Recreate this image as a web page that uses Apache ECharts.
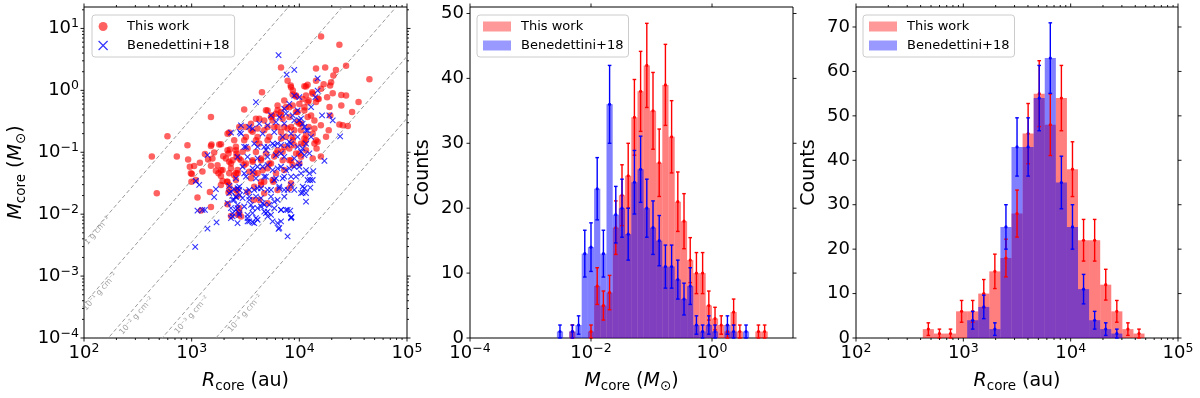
<!DOCTYPE html>
<html><head><meta charset="utf-8">
<script src="https://cdn.jsdelivr.net/npm/echarts@6/dist/echarts.min.js"></script>
<style>html,body{margin:0;padding:0;background:#fff}#c{width:1200px;height:398px}</style>
</head><body><div id="c"></div>
<script>
const FONT = 'DejaVu Sans';

// ---------- Panel 1: scatter, values as [log10 R(au), log10 M(Msun)] ----------
const thisWorkLog = [
[2.63,-1.07],[2.676,-1.66],[2.775,-0.74],[2.862,-1.07],[2.961,-0.886],[2.967,-1.116],[2.983,-1.234],[2.993,-1.34],[2.998,-1.475],[3.054,-1.73],
[3.086,-1.94],[3.076,-1.17],[3.1,-1.31],[3.169,-1.64],[3.179,-0.432],[3.179,-0.9],[3.193,-1.1],[3.24,-1.21],[3.256,-0.875],[3.272,-1.29],
[3.249,-1.34],[3.333,-0.7],[3.342,-1.02],[3.349,-1.53],[3.342,-1.65],[3.365,-2.03],[3.395,-1.37],[3.411,-0.91],[3.417,-1.07],[3.426,-1.705],
[3.488,-0.31],[3.498,-0.59],[3.473,-0.99],[3.504,-1.18],[3.519,-1.64],[3.566,-0.67],[3.566,-1.13],[3.575,-1.77],[3.597,-0.46],[3.653,-0.03],
[3.628,-0.86],[3.659,-1.29],[3.674,-1.475],[3.69,-0.32],[3.705,-0.59],[3.721,-0.75],[3.746,-0.405],[3.767,-1.07],[3.758,-1.475],[3.798,-0.32],
[4.202,0.868],[4.372,0.735],[4.434,0.398],[4.651,0.178],[3.83,0.371],[3.891,0.157],[4.155,0.157],[4.39,-0.076],
[4.155,0.355],[4.24,0.37],[4.34,0.33],[4.316,0.24],[4.295,0.13],[4.226,0.10],[4.047,0.066],[4.077,0.09],[3.92,0.077],[3.94,-0.003],
[4.12,-0.03],[4.2,0.024],[4.286,0.077],[4.31,-0.047],[4.434,-0.084],[4.55,-0.19],[4.49,-0.35],[4.28,-0.27],[4.258,-0.11],[4.18,-0.14],
[4.155,-0.19],[4.087,-0.164],[4.03,-0.14],[4.0,-0.22],[3.86,-0.164],[3.876,-0.27],[3.83,-0.35],[4.39,-0.244],[4.288,-0.405],[4.2,-0.565],
[4.372,-0.55],[4.403,-0.565],[4.45,-0.576],[4.273,-0.645],[4.248,-0.75],[4.17,-0.83],[4.16,-0.94],[4.2,-1.07],[4.124,-0.70],[4.062,-0.726],
[4.0,-0.54],[4.087,-0.59],[3.953,-0.645],[3.907,-0.43],[3.984,-0.35],[4.047,-0.324],[4.109,-0.405],[4.14,-0.485],[3.86,-0.59],[3.876,-0.75],
[3.938,-0.806],[4.016,-0.86],[4.062,-0.966],[3.97,-1.02],[3.907,-1.13],[4.0,-1.18],[3.845,-0.99],
[3.938,-0.067],[3.969,-0.1],[4.062,-0.084],[3.705,-0.324],[3.798,-0.244],[3.907,-0.271],[3.969,-0.351],[4.047,-0.271],[3.628,-0.457],[3.737,-0.432],
[3.83,-0.404],[3.984,-0.512],[4.077,-0.432],[3.442,-0.592],[3.551,-0.538],[3.674,-0.645],[3.798,-0.592],[3.891,-0.618],[4.016,-0.645],[3.504,-0.753],
[3.612,-0.753],[3.705,-0.806],[3.83,-0.778],[3.938,-0.753],[4.062,-0.806],[3.411,-0.966],[3.519,-0.939],[3.597,-0.994],[3.69,-1.019],[3.798,-0.966],
[3.907,-0.939],[4.0,-1.019],[3.458,-1.127],[3.566,-1.154],[3.644,-1.099],[3.737,-1.18],[3.845,-1.127],[3.938,-1.207],[3.426,-1.287],[3.535,-1.315],
[3.612,-1.34],[3.705,-1.26],[3.783,-1.34],[3.86,-1.287],[3.411,-1.448],[3.551,-1.421],[3.644,-1.475],[3.752,-1.448],[3.923,-1.501],[3.426,-1.608],
[3.581,-1.555],[3.674,-1.661],[3.798,-1.608],[3.442,-1.902],[3.458,-2.037],[3.628,-1.769],[3.705,-1.822],
[3.184,-0.875],[3.272,-0.87],[3.349,-0.682],[3.123,-1.03],[3.153,-1.116],[3.209,-1.003],[3.293,-1.063],[3.355,-0.955],[3.023,-1.223],[3.002,-1.352],
[3.039,-1.448],[3.179,-1.218],[3.287,-1.287],[3.225,-1.299],[3.349,-1.154],[3.272,-1.384],[3.318,-1.099],[3.38,-1.127],[3.417,-1.019],[3.365,-1.26],
[3.411,-1.34],[3.287,-1.464],[3.272,-1.528],[3.333,-1.475],[3.179,-1.886],[3.333,-1.838],[3.426,-2.01],
[3.333,-0.966],[3.442,-1.099],[3.365,-1.18],[3.349,-1.34],[3.426,-1.34],[3.488,-1.207],[3.644,-1.127],[3.721,-1.18],[3.783,-1.019],[3.86,-0.913],
[3.953,-0.886],[4.047,-0.859],[4.14,-0.859],[4.016,-1.074],[3.923,-1.127],[4.124,-1.099],[3.349,-1.608],[3.411,-1.608],[3.327,-1.475],[3.907,-1.581],
[3.644,-1.528],[3.442,-1.974],[3.581,-1.34],
[3.923,0.05],[4.062,0.061],[3.969,-0.084],[4.124,-0.056],[4.077,-0.191],[4.17,-0.137],[3.938,-0.244],[3.783,-0.377],[3.674,-0.485],[3.752,-0.485],
[3.845,-0.457],[3.612,-0.618],[3.551,-0.645],[3.767,-0.592],[3.83,-0.673],[3.923,-0.592],[4.016,-0.538],[4.14,-0.618],[3.395,-0.806],[3.488,-0.806],
[3.597,-0.806],[4.047,-0.778],[4.155,-0.806]
];
const benedettiniLog = [
[3.597,-0.191],[3.458,-0.698],[3.535,-0.592],[3.628,-0.538],[3.705,-0.565],[3.783,-0.512],[3.86,-0.538],[3.953,-0.485],[4.031,-0.538],[3.504,-0.913],
[3.581,-0.859],[3.674,-0.913],[3.752,-0.859],[3.83,-0.886],[3.907,-0.833],[3.984,-0.913],[4.062,-0.859],[3.426,-1.074],[3.519,-1.074],[3.612,-1.099],
[3.705,-1.074],[3.783,-1.047],[3.86,-1.074],[3.953,-1.099],[4.047,-1.047],[3.473,-1.234],[3.566,-1.26],[3.659,-1.234],[3.752,-1.287],[3.83,-1.234],
[3.907,-1.26],[4.0,-1.234],[4.062,-1.287],[3.411,-1.421],[3.504,-1.395],[3.597,-1.421],[3.69,-1.395],[3.783,-1.421],[3.86,-1.395],[3.969,-1.395],
[4.077,-1.448],[3.426,-1.581],[3.535,-1.608],[3.612,-1.581],[3.705,-1.608],[3.814,-1.581],[3.891,-1.608],[4.031,-1.555],[4.062,-1.661],[3.411,-1.716],
[3.473,-1.742],[3.535,-1.716],[3.644,-1.742],[3.737,-1.716],[3.798,-1.769],[3.86,-1.716],[3.426,-1.849],[3.488,-1.876],[3.551,-1.849],[3.612,-1.902],
[3.674,-1.849],[3.767,-1.902],[3.442,-1.982],[3.519,-2.01],[3.566,-1.982],[3.69,-1.982],[3.705,-2.037],[3.83,-1.929],[3.891,-1.929],[3.426,-2.143],
[3.519,-2.117],[3.581,-2.143],[3.752,-2.117],[3.798,-2.143],[3.923,-2.053],[3.814,-2.223],[3.891,-2.358],[4.062,-1.796],
[3.365,-0.682],[3.147,-1.047],[3.039,-1.464],[3.07,-1.528],[3.225,-1.597],[3.209,-1.726],[3.349,-1.544],[3.365,-1.636],[3.395,-1.597],[3.1,-1.929],
[3.123,-1.929],[3.333,-1.822],[3.38,-1.769],[3.411,-1.726],[3.365,-1.902],[3.38,-1.982],[3.411,-1.929],[3.231,-2.133],[3.147,-2.234],[3.033,-2.528],
[3.807,0.57],[3.953,0.329],[3.882,0.254],[4.17,0.194],[4.211,-0.404],[4.109,-0.271],[4.379,-0.742],[4.233,-1.138],[4.13,-1.303],[4.1,-1.448],
[4.102,-1.571],[4.031,-1.652],[4.016,-1.34],[3.916,-1.941],[3.928,-2.047],[3.807,-2.239],[3.83,-2.117],[3.054,-1.941],[3.365,-2.063],[3.442,-1.555],
[3.448,-1.689],[3.566,-2.133],[3.597,-2.063],[3.448,-0.673],[4.149,-0.111],[4.047,-0.592],
[4.17,-0.003],[3.953,-0.084],[4.279,-0.404],[4.31,-0.485],[3.86,-0.297],[3.907,-0.217],[3.984,-0.324],[4.0,-0.485],[4.062,-0.645],[4.109,-0.753],[4.016,-0.994],
[3.38,-2.037],[3.442,-2.01],[3.519,-2.063],[3.535,-2.117],[3.612,-2.09],[3.674,-1.957],[3.705,-1.957],[3.737,-2.01],[3.83,-1.929],[3.876,-1.929],
[3.923,-2.063],[4.047,-1.581],[4.124,-1.448],[4.016,-1.661],[4.093,-1.34],[3.953,-1.608],[3.395,-1.769],[3.535,-1.769],[3.597,-1.716],[3.659,-1.822],
[3.721,-1.849],[3.767,-1.796],[3.426,-1.902],[3.566,-1.902],[3.644,-1.876],[3.349,-1.661],[3.442,-1.608],[3.504,-1.636],[3.581,-1.608],[3.644,-1.581],
[3.737,-1.608],[3.814,-1.555],[3.86,-1.608],[3.923,-1.528],[3.488,-1.34],[3.566,-1.315],[3.612,-1.234],[3.705,-1.207],[3.798,-1.26],[3.876,-1.287],
[3.953,-1.234],[4.0,-1.18],[3.674,-1.395],[3.767,-1.448],[3.845,-1.421],[3.923,-1.395],[3.612,-0.913],[3.69,-0.966],[3.767,-0.886],[3.83,-1.019],
[3.923,-0.859],[4.031,-0.939],[4.093,-1.019],
[3.458,-0.565],[4.0,-0.111],[3.737,-0.404],[3.814,-0.432],[3.876,-0.377],[3.938,-0.404],[4.016,-0.457],[3.566,-0.618],[3.659,-0.698],[3.767,-0.673],
[3.845,-0.753],[3.923,-0.698],[3.984,-0.753],[4.077,-0.645],[3.488,-0.913],[3.705,-0.913],[3.798,-0.859],[3.891,-0.886]
];

// Constant surface density reference lines (endpoints, R in au, M in Msun)
const sigmaLabels = ['1 g cm⁻²','10⁻¹ g cm⁻²','10⁻² g cm⁻²','10⁻³ g cm⁻²','10⁻⁴ g cm⁻²'];
const sigmaLineEnds = [
  [[100,3.54e-3],[1e5,3.54e3]],
  [[100,3.54e-4],[1e5,3.54e2]],
  [[100,3.54e-5],[1e5,3.54e1]],
  [[100,3.54e-6],[1e5,3.54]],
  [[100,3.54e-7],[1e5,0.354]]
];
const sigmaLabelPos = [[133,5.4e-3],[141,5.6e-4],[308,2.28e-4],[1000,2.36e-4],[3130,2.5e-4]];

// ---------- Panel 2: M_core histogram (log10 bins) ----------
const massBinStart = -2.564, massBinWidth = 0.1025;
const massCountsThis = [0,0,1,0,0,1,8,5,7,17,22,25,34,38,42,35,27,39,31,21,18,12,10,10,5,3,2,1,4,1,0,0,1,1];
const massCountsBen  = [1,0,1,2,13,14,23,13,36,19,20,16,24,26,20,17,15,11,11,9,6,8,2,1,2,1,0,2,1,0,1,0,0,0];

// ---------- Panel 3: R_core histogram (log10 bins) ----------
const radBinStart = 2.6223, radBinWidth = 0.1033;
const radCountsThis = [2,1,1,6,6,10,15,18,28,46,55,48,54,38,22,22,12,6,2,1];
const radCountsBen  = [0,0,0,0,4,7,2,25,43,43,54,63,35,25,11,4,2,1,0,0];

// ---------- axis tick labels ----------
const massTickExp = [-4,-2,0];
const linTicks2 = [0,10,20,30,40,50];
const linTicks3 = [0,10,20,30,40,50,60,70];

const RED_FILL = 'rgba(255,0,0,0.5)', BLUE_FILL = 'rgba(0,0,255,0.5)';
const X_PATH = 'path://M0,0L10,10M10,0L0,10';

const EXT = [
  {xmin:100, xmax:1e5, ymin:1e-4, ymax:22.2},
  {xmin:1e-4, xmax:21.8, ymin:0, ymax:51},
  {xmin:100, xmax:1e5, ymin:0, ymax:74.5}
];

function pow10(a){return a.map(p=>[Math.pow(10,p[0]),Math.pow(10,p[1])]);}
function bins(start,w,counts){
  const out=[];
  counts.forEach((n,i)=>{ if(n>0) out.push([Math.pow(10,start+i*w),Math.pow(10,start+(i+1)*w),n]); });
  return out;
}
function centers(start,w,counts){
  const out=[];
  counts.forEach((n,i)=>{ if(n>0) out.push([Math.pow(10,start+(i+0.5)*w),n]); });
  return out;
}
function logMajors(e0,e1){const o=[];for(let e=e0;e<=e1;e++)o.push(Math.pow(10,e));return o;}
function logMinors(e0,e1,maxV){const o=[];for(let e=e0;e<e1;e++)for(let m=2;m<=9;m++){const v=m*Math.pow(10,e);if(v<=maxV)o.push(v);}return o;}

const supRich = {
  b:{fontSize:18,fontFamily:FONT,lineHeight:22,color:'#000'},
  s:{fontSize:12.5,fontFamily:FONT,lineHeight:9,verticalAlign:'top',color:'#000'}
};
function logFmt(step){
  return function(v){
    const e=Math.log10(v), r=Math.round(e);
    if(Math.abs(e-r)>1e-6 || r%step!==0) return '';
    return '{b|10}{s|'+(r<0?'−'+(-r):String(r))+'}';
  };
}
function linFmt(v){ return Math.abs(v%10)<1e-9 ? String(v) : ''; }

const nameRich = {
  i:{fontSize:19,fontFamily:FONT,fontStyle:'italic',lineHeight:24,color:'#000'},
  r:{fontSize:19,fontFamily:FONT,lineHeight:24,color:'#000'},
  sub:{fontSize:13.5,fontFamily:FONT,lineHeight:15,verticalAlign:'bottom',color:'#000'}
};
const NAME_R = '{i|R}{sub|core}{r| (au)}';
const NAME_M = '{i|M}{sub|core}{r| (}{i|M}{sub|⊙}{r|)}';

function tickSeries(gi,dir,vals,len){
  const e=EXT[gi];
  return {
    type:'custom', xAxisIndex:gi, yAxisIndex:gi, silent:true, z:10, clip:false,
    data: vals.map(v=>dir==='x'?[v,e.ymin]:[e.xmin,v]),
    encode:{x:0,y:1},
    renderItem:function(p,api){
      const st={stroke:'#000',lineWidth:0.9};
      if(dir==='x'){
        const v=api.value(0), a=api.coord([v,e.ymin]), b=api.coord([v,e.ymax]);
        return {type:'group',children:[
          {type:'line',shape:{x1:a[0],y1:a[1],x2:a[0],y2:a[1]+len},style:st},
          {type:'line',shape:{x1:b[0],y1:b[1],x2:b[0],y2:b[1]-len},style:st}]};
      } else {
        const v=api.value(1), a=api.coord([e.xmin,v]), b=api.coord([e.xmax,v]);
        return {type:'group',children:[
          {type:'line',shape:{x1:a[0],y1:a[1],x2:a[0]-len,y2:a[1]},style:st},
          {type:'line',shape:{x1:b[0],y1:b[1],x2:b[0]+len,y2:b[1]},style:st}]};
      }
    }
  };
}
function histSeries(gi,name,data,color){
  return {
    type:'custom', name:name, xAxisIndex:gi, yAxisIndex:gi, silent:true, z:2,
    data:data, encode:{x:[0,1],y:2}, itemStyle:{color:color},
    renderItem:function(p,api){
      const a=api.coord([api.value(0),api.value(2)]), b=api.coord([api.value(1),0]);
      return {type:'rect',shape:{x:a[0],y:a[1],width:b[0]-a[0],height:b[1]-a[1]},style:{fill:color}};
    }
  };
}
function errSeries(gi,data,color){
  return {
    type:'custom', xAxisIndex:gi, yAxisIndex:gi, silent:true, z:4,
    data:data, encode:{x:0,y:1},
    renderItem:function(p,api){
      const c=api.value(0), n=api.value(1), s=Math.sqrt(n);
      const t=api.coord([c,n+s]), b=api.coord([c,n-s]), m=api.coord([c,n]);
      const st={stroke:color,lineWidth:1.4};
      return {type:'group',children:[
        {type:'line',shape:{x1:t[0],y1:t[1],x2:b[0],y2:b[1]},style:st},
        {type:'line',shape:{x1:t[0]-1.8,y1:t[1],x2:t[0]+1.8,y2:t[1]},style:st},
        {type:'line',shape:{x1:b[0]-1.8,y1:b[1],x2:b[0]+1.8,y2:b[1]},style:st},
        {type:'circle',shape:{cx:m[0],cy:m[1],r:1.6},style:{fill:color}}]};
    }
  };
}

const gridBase = {top:7,height:332,show:true,borderColor:'#000',borderWidth:1,backgroundColor:'rgba(0,0,0,0)'};
const grids = [
  Object.assign({left:84,width:323},gridBase),
  Object.assign({left:470,width:323},gridBase),
  Object.assign({left:856,width:322},gridBase)
];

function logAxis(gi,step,name,gap,isY,margin){
  const e=EXT[gi];
  return {
    type:'log', logBase:10, gridIndex:gi,
    min:isY?e.ymin:e.xmin, max:isY?e.ymax:e.xmax,
    axisLine:{show:false}, axisTick:{show:false}, splitLine:{show:false},
    axisLabel:{formatter:logFmt(step),rich:supRich,margin:margin,color:'#000'},
    name:name, nameLocation:'middle', nameGap:gap, nameRotate:isY?90:0,
    nameTextStyle:{rich:nameRich,fontFamily:FONT,fontSize:19,color:'#000',lineHeight:24}
  };
}
function linAxis(gi,gap){
  const e=EXT[gi];
  return {
    type:'value', gridIndex:gi, min:e.ymin, max:e.ymax, interval:10,
    axisLine:{show:false}, axisTick:{show:false}, splitLine:{show:false},
    axisLabel:{formatter:linFmt,fontSize:18,fontFamily:FONT,color:'#000',margin:6},
    name:'Counts', nameLocation:'middle', nameGap:gap, nameRotate:90,
    nameTextStyle:{fontFamily:FONT,fontSize:19,color:'#000',lineHeight:24}
  };
}

const legendBase = {
  orient:'vertical', top:15, itemWidth:28, itemGap:6, padding:[5,5,5,6],
  borderColor:'#cccccc', borderWidth:1, borderRadius:3, backgroundColor:'rgba(255,255,255,0.8)',
  selectedMode:false,
  formatter:function(n){return '{g|}{t|'+n+'}';},
  textStyle:{fontFamily:FONT,fontSize:13,color:'#000',
    rich:{g:{width:5,fontSize:13},t:{fontFamily:FONT,fontSize:13,color:'#000'}}}
};

const series = [];
sigmaLineEnds.forEach(pts=>series.push({
  type:'line', xAxisIndex:0, yAxisIndex:0, data:pts, symbol:'none', silent:true, z:1, clip:true,
  lineStyle:{color:'#9a9a9a',width:1,type:[4,2.5]}
}));
series.push({
  type:'scatter', xAxisIndex:0, yAxisIndex:0, silent:true, z:1, symbolSize:1,
  itemStyle:{color:'rgba(0,0,0,0)'},
  data: sigmaLabelPos.map((p,i)=>({value:p,label:{formatter:sigmaLabels[i]}})),
  label:{show:true,position:'inside',rotate:49,fontSize:8,color:'#8a8a8a',fontFamily:FONT}
});
series.push({
  type:'scatter', name:'This work', xAxisIndex:0, yAxisIndex:0, z:3, clip:true,
  data:pow10(thisWorkLog), symbol:'circle', symbolSize:6.5,
  itemStyle:{color:'rgba(255,0,0,0.78)'}
});
series.push({
  type:'scatter', name:'Benedettini+18', xAxisIndex:0, yAxisIndex:0, z:4, clip:true,
  data:pow10(benedettiniLog), symbol:X_PATH, symbolSize:5.5, symbolKeepAspect:true,
  itemStyle:{color:'rgba(0,0,0,0)',borderColor:'#0000ff',borderWidth:1.1}
});
// panel 2
series.push(histSeries(1,'This work',bins(massBinStart,massBinWidth,massCountsThis),RED_FILL));
series.push(histSeries(1,'Benedettini+18',bins(massBinStart,massBinWidth,massCountsBen),BLUE_FILL));
series.push(errSeries(1,centers(massBinStart,massBinWidth,massCountsThis),'#ff0000'));
series.push(errSeries(1,centers(massBinStart,massBinWidth,massCountsBen),'#0000ff'));
// panel 3
series.push(histSeries(2,'This work',bins(radBinStart,radBinWidth,radCountsThis),RED_FILL));
series.push(histSeries(2,'Benedettini+18',bins(radBinStart,radBinWidth,radCountsBen),BLUE_FILL));
series.push(errSeries(2,centers(radBinStart,radBinWidth,radCountsThis),'#ff0000'));
series.push(errSeries(2,centers(radBinStart,radBinWidth,radCountsBen),'#0000ff'));
// ticks
series.push(tickSeries(0,'x',logMajors(2,5),3.5));
series.push(tickSeries(0,'x',logMinors(2,5,1e5),2));
series.push(tickSeries(0,'y',logMajors(-4,1),3.5));
series.push(tickSeries(0,'y',logMinors(-4,2,22.2),2));
series.push(tickSeries(1,'x',massTickExp.map(e=>Math.pow(10,e)),3.5));
series.push(tickSeries(1,'y',linTicks2,3.5));
series.push(tickSeries(2,'x',logMajors(2,5),3.5));
series.push(tickSeries(2,'x',logMinors(2,5,1e5),2));
series.push(tickSeries(2,'y',linTicks3,3.5));

const option = {
  animation:false,
  backgroundColor:'#fff',
  grid:grids,
  xAxis:[
    logAxis(0,1,NAME_R,31,false,4),
    logAxis(1,2,NAME_M,31,false,4),
    logAxis(2,1,NAME_R,31,false,4)
  ],
  yAxis:[
    logAxis(0,1,NAME_M,56,true,5),
    linAxis(1,35),
    linAxis(2,35)
  ],
  legend:[
    Object.assign({},legendBase,{left:92,itemHeight:9,data:[
      {name:'This work',icon:'circle',itemStyle:{color:'rgba(255,0,0,0.78)'}},
      {name:'Benedettini+18',icon:X_PATH,itemStyle:{color:'rgba(0,0,0,0)',borderColor:'#0000ff',borderWidth:1.2}}
    ]}),
    Object.assign({},legendBase,{left:477,itemHeight:10,data:[
      {name:'This work',icon:'rect',itemStyle:{color:RED_FILL,borderWidth:0}},
      {name:'Benedettini+18',icon:'rect',itemStyle:{color:BLUE_FILL,borderWidth:0}}
    ]}),
    Object.assign({},legendBase,{left:863,itemHeight:10,data:[
      {name:'This work',icon:'rect',itemStyle:{color:RED_FILL,borderWidth:0}},
      {name:'Benedettini+18',icon:'rect',itemStyle:{color:BLUE_FILL,borderWidth:0}}
    ]})
  ],
  series:series
};
const chart = echarts.init(document.getElementById('c'),null,{renderer:'canvas',width:1200,height:398});
chart.setOption(option);
</script>
</body></html>
